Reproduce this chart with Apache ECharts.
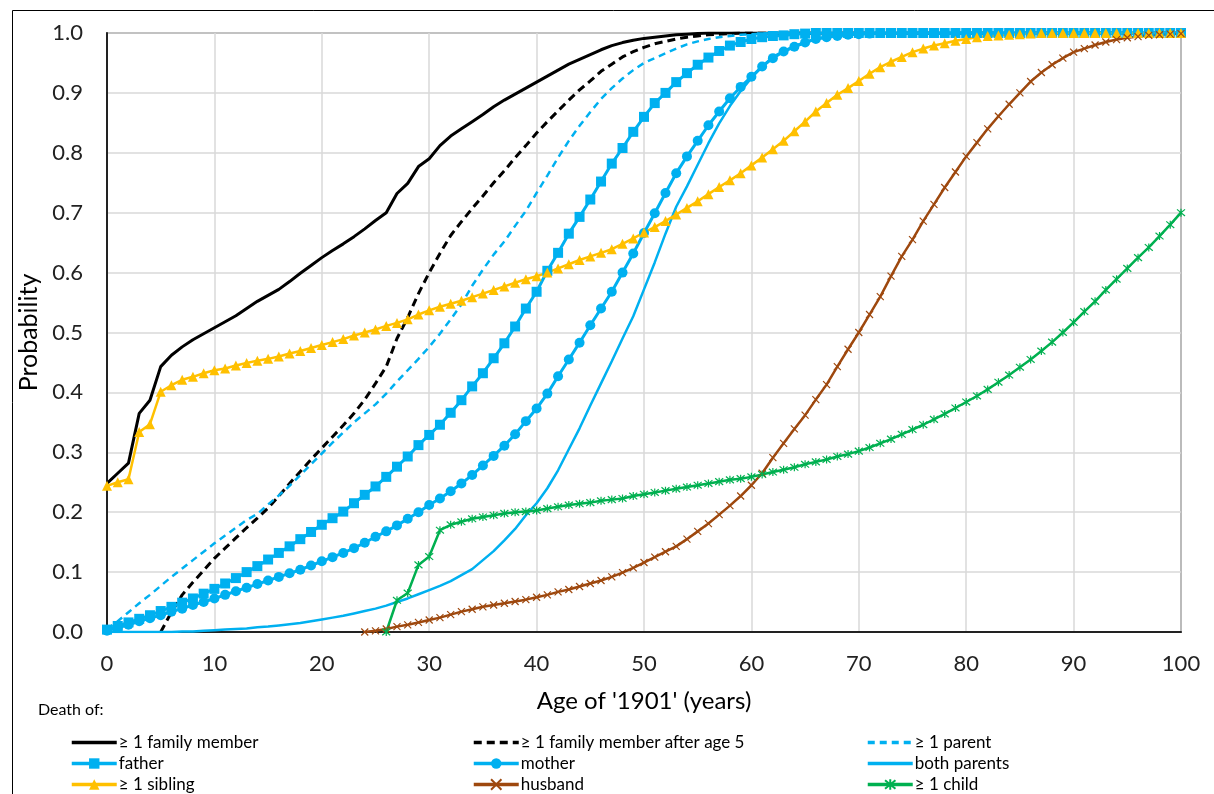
<!DOCTYPE html>
<html>
<head>
<meta charset="utf-8">
<script src="https://cdn.jsdelivr.net/npm/echarts@6/dist/echarts.min.js"></script>
<style>
html,body{margin:0;padding:0;background:#fff;}
#chart{width:1214px;height:794px;}
</style>
</head>
<body>
<div id="chart"></div>
<script>
// Ages 0..100 (x values)
const ages = [0,1,2,3,4,5,6,7,8,9,10,11,12,13,14,15,16,17,18,19,20,21,22,23,24,25,26,27,28,29,30,31,32,33,34,35,36,37,38,39,40,41,42,43,44,45,46,47,48,49,50,51,52,53,54,55,56,57,58,59,60,61,62,63,64,65,66,67,68,69,70,71,72,73,74,75,76,77,78,79,80,81,82,83,84,85,86,87,88,89,90,91,92,93,94,95,96,97,98,99,100];

const xTicks = [0,10,20,30,40,50,60,70,80,90,100];
const yTicks = [0.0,0.1,0.2,0.3,0.4,0.5,0.6,0.7,0.8,0.9,1.0];

const seriesNames = ['≥ 1 family member','≥ 1 family member after age 5','≥ 1 parent','father','mother','both parents','≥ 1 sibling','husband','≥ 1 child'];

// Each series starts at the given age and then has one value per year.
const familyStart = 0;
const family = [0.248,0.265,0.282,0.365,0.387,0.443,0.462,0.476,0.488,0.498,0.508,0.518,0.528,0.54,0.552,0.562,0.572,0.585,0.599,0.612,0.625,0.637,0.648,0.66,0.673,0.687,0.70,0.732,0.749,0.777,0.79,0.812,0.828,0.84,0.852,0.864,0.877,0.888,0.898,0.908,0.918,0.928,0.938,0.948,0.956,0.964,0.972,0.979,0.984,0.988,0.991,0.993,0.995,0.997,0.998,0.999,1,1,1,1,1,1,1,1,1,1,1,1,1,1,1,1,1,1,1,1,1,1,1,1,1,1,1,1,1,1,1,1,1,1,1,1,1,1,1,1,1,1,1,1,1];

const familyAfter5Start = 5;
const familyAfter5 = [0,0.033,0.062,0.083,0.103,0.123,0.14,0.157,0.174,0.19,0.207,0.227,0.248,0.268,0.288,0.307,0.326,0.345,0.365,0.388,0.415,0.443,0.49,0.525,0.565,0.60,0.632,0.662,0.685,0.707,0.728,0.75,0.77,0.792,0.812,0.833,0.852,0.87,0.888,0.905,0.92,0.936,0.948,0.96,0.969,0.976,0.982,0.986,0.99,0.993,0.995,0.997,0.998,0.999,1,1,1,1,1,1,1,1,1,1,1,1,1,1,1,1,1,1,1,1,1,1,1,1,1,1,1,1,1,1,1,1,1,1,1,1,1,1,1,1,1,1];

const parentStart = 0;
const parent = [0.005,0.018,0.033,0.048,0.062,0.077,0.092,0.106,0.12,0.134,0.148,0.161,0.174,0.187,0.197,0.213,0.228,0.244,0.262,0.28,0.298,0.316,0.333,0.35,0.365,0.38,0.398,0.418,0.437,0.456,0.476,0.498,0.522,0.547,0.578,0.605,0.63,0.652,0.678,0.703,0.733,0.762,0.792,0.82,0.845,0.868,0.89,0.908,0.924,0.938,0.95,0.958,0.966,0.974,0.981,0.986,0.99,0.993,0.995,0.997,0.998,0.999,1,1,1,1,1,1,1,1,1,1,1,1,1,1,1,1,1,1,1,1,1,1,1,1,1,1,1,1,1,1,1,1,1,1,1,1,1,1,1];

const fatherStart = 0;
const father = [0.004,0.01,0.016,0.022,0.028,0.035,0.042,0.049,0.056,0.064,0.072,0.081,0.09,0.1,0.11,0.121,0.132,0.143,0.155,0.167,0.179,0.19,0.201,0.215,0.229,0.243,0.259,0.276,0.293,0.312,0.329,0.346,0.366,0.387,0.41,0.432,0.457,0.482,0.51,0.54,0.568,0.603,0.633,0.665,0.693,0.722,0.752,0.782,0.808,0.835,0.86,0.883,0.9,0.918,0.933,0.947,0.959,0.97,0.979,0.985,0.99,0.993,0.995,0.996,0.998,0.999,1,1,1,1,1,1,1,1,1,1,1,1,1,1,1,1,1,1,1,1,1,1,1,1,1,1,1,1,1,1,1,1,1,1,1];

const motherStart = 0;
const mother = [0.002,0.007,0.012,0.018,0.023,0.028,0.034,0.039,0.045,0.05,0.056,0.062,0.068,0.074,0.08,0.086,0.092,0.098,0.104,0.111,0.118,0.125,0.132,0.14,0.149,0.159,0.168,0.178,0.189,0.2,0.212,0.223,0.235,0.248,0.262,0.278,0.294,0.311,0.33,0.352,0.373,0.398,0.427,0.455,0.483,0.512,0.54,0.568,0.6,0.632,0.666,0.699,0.733,0.766,0.794,0.82,0.846,0.869,0.891,0.91,0.927,0.944,0.958,0.969,0.977,0.984,0.99,0.993,0.995,0.997,0.998,0.999,1,1,1,1,1,1,1,1,1,1,1,1,1,1,1,1,1,1,1,1,1,1,1,1,1,1,1,1,1];

const bothStart = 0;
const bothParents = [0,0,0,0,0,0,0,0.001,0.001,0.002,0.003,0.004,0.005,0.006,0.008,0.009,0.011,0.013,0.015,0.018,0.021,0.024,0.027,0.031,0.035,0.039,0.044,0.05,0.056,0.063,0.07,0.077,0.085,0.095,0.105,0.12,0.135,0.153,0.172,0.195,0.215,0.24,0.27,0.305,0.34,0.378,0.415,0.452,0.49,0.527,0.572,0.617,0.665,0.71,0.744,0.78,0.816,0.849,0.878,0.903,0.925,0.944,0.96,0.97,0.978,0.985,0.99,0.993,0.996,0.998,0.999,1,1,1,1,1,1,1,1,1,1,1,1,1,1,1,1,1,1,1,1,1,1,1,1,1,1,1,1,1,1];

const siblingStart = 0;
const sibling = [0.244,0.25,0.255,0.334,0.347,0.401,0.412,0.421,0.426,0.432,0.437,0.44,0.445,0.449,0.453,0.456,0.46,0.465,0.469,0.474,0.479,0.484,0.489,0.495,0.5,0.505,0.511,0.516,0.522,0.53,0.537,0.543,0.548,0.553,0.559,0.565,0.571,0.577,0.583,0.589,0.594,0.6,0.607,0.614,0.621,0.627,0.633,0.639,0.648,0.657,0.667,0.676,0.686,0.697,0.708,0.719,0.731,0.743,0.754,0.766,0.779,0.792,0.806,0.82,0.836,0.852,0.869,0.883,0.897,0.908,0.92,0.932,0.943,0.952,0.96,0.968,0.974,0.979,0.983,0.987,0.99,0.993,0.995,0.996,0.997,0.998,0.999,1,1,1,1,1,1,1,1,1,1,1,1,1,1];

const husbandStart = 24;
const husband = [0,0.002,0.005,0.009,0.012,0.016,0.02,0.024,0.029,0.034,0.038,0.042,0.045,0.048,0.051,0.054,0.058,0.062,0.067,0.071,0.076,0.081,0.086,0.092,0.099,0.107,0.116,0.125,0.134,0.143,0.155,0.168,0.181,0.196,0.211,0.227,0.245,0.265,0.291,0.315,0.339,0.362,0.388,0.413,0.443,0.472,0.5,0.53,0.56,0.594,0.627,0.655,0.686,0.714,0.742,0.768,0.794,0.817,0.84,0.861,0.881,0.9,0.919,0.934,0.947,0.958,0.968,0.974,0.98,0.985,0.989,0.992,0.994,0.996,0.997,0.998,0.999];

const childStart = 26;
const child = [0,0.053,0.065,0.112,0.126,0.17,0.179,0.184,0.189,0.192,0.195,0.198,0.2,0.201,0.203,0.206,0.209,0.212,0.214,0.216,0.219,0.221,0.223,0.227,0.23,0.233,0.236,0.239,0.242,0.245,0.248,0.251,0.254,0.256,0.259,0.263,0.267,0.271,0.275,0.28,0.284,0.288,0.293,0.297,0.302,0.308,0.315,0.322,0.33,0.338,0.346,0.355,0.364,0.374,0.384,0.394,0.405,0.417,0.429,0.442,0.455,0.469,0.484,0.5,0.517,0.535,0.552,0.571,0.589,0.607,0.625,0.642,0.661,0.68,0.7];

function pairs(start, vals){
  return vals.map(function(v,i){ return [ages[start+i], v]; });
}

const BLUE = '#00B0F0', YELLOW = '#FFC000', BROWN = '#9E480E', GREEN = '#00B050';
const FONT = 'Lato, "Noto Sans", sans-serif';

const xPath = 'path://M0,0L10,10M10,0L0,10';
const starPath = 'path://M0,0L10,10M10,0L0,10M5,-1L5,11';

function mk(name, data, color, opts){
  return Object.assign({
    name: name, type: 'line', data: data, showSymbol: false, symbol: 'circle',
    lineStyle: {color: color, width: 2.5, type: 'solid'},
    itemStyle: {color: color},
    emphasis: {disabled: true}, clip: true, z: 2
  }, opts || {});
}

const series = [
  mk(seriesNames[0], pairs(familyStart, family), '#000', {lineStyle:{color:'#000', width:3}}),
  mk(seriesNames[1], pairs(familyAfter5Start, familyAfter5), '#000', {lineStyle:{color:'#000', width:3, type:[8,5]}}),
  mk(seriesNames[2], pairs(parentStart, parent), BLUE, {lineStyle:{color:BLUE, width:2.5, type:[7,5]}}),
  mk(seriesNames[3], pairs(fatherStart, father), BLUE, {showSymbol:true, symbol:'rect', symbolSize:10, lineStyle:{color:BLUE, width:3}}),
  mk(seriesNames[4], pairs(motherStart, mother), BLUE, {showSymbol:true, symbol:'circle', symbolSize:10, lineStyle:{color:BLUE, width:3}}),
  mk(seriesNames[5], pairs(bothStart, bothParents), BLUE, {lineStyle:{color:BLUE, width:2.5}}),
  mk(seriesNames[6], pairs(siblingStart, sibling), YELLOW, {showSymbol:true, symbol:'triangle', symbolSize:10, lineStyle:{color:YELLOW, width:2.5}}),
  mk(seriesNames[7], pairs(husbandStart, husband), BROWN, {showSymbol:true, symbol:xPath, symbolSize:7, itemStyle:{color:BROWN, borderColor:BROWN, borderWidth:1.2}, lineStyle:{color:BROWN, width:2.5}}),
  mk(seriesNames[8], pairs(childStart, child), GREEN, {showSymbol:true, symbol:starPath, symbolSize:8, itemStyle:{color:GREEN, borderColor:GREEN, borderWidth:1.2}, lineStyle:{color:GREEN, width:2.5}})
];

const plainLines = [seriesNames[0], seriesNames[1], seriesNames[2], seriesNames[5]];

// legend grid: 3 columns x 3 rows, same order as the reference
const legendLayout = [
  [seriesNames[0], seriesNames[1], seriesNames[2]],
  [seriesNames[3], seriesNames[4], seriesNames[5]],
  [seriesNames[6], seriesNames[7], seriesNames[8]]
];
const colLeft = [70, 472, 866];
const rowTop = [734, 755, 776];

const legends = [];
legendLayout.forEach(function(row, r){
  row.forEach(function(n, c){
    legends.push({
      orient: 'horizontal', left: colLeft[c], top: rowTop[r], itemWidth: 45, itemHeight: 13,
      padding: 0, selectedMode: false,
      lineStyle: {width: 3.5},
      textStyle: {fontFamily: FONT, fontSize: 17, color: '#000', padding:[0,0,0,-3]},
      data: [plainLines.indexOf(n) >= 0
        ? {name: n, itemStyle: {color: 'rgba(0,0,0,0)', borderColor: 'rgba(0,0,0,0)', borderWidth: 0}}
        : {name: n}]
    });
  });
});

const chart = echarts.init(document.getElementById('chart'), null, {renderer: 'canvas'});
chart.setOption({
  animation: false,
  backgroundColor: '#fff',
  grid: {left: 107, top: 33, width: 1074, height: 599, show: true, borderColor: '#000', borderWidth: 1.2, backgroundColor: 'transparent'},
  xAxis: {
    type: 'value', min: xTicks[0], max: xTicks[xTicks.length-1], interval: 10,
    name: "Age of '1901' (years)", nameLocation: 'middle', nameGap: 57,
    nameTextStyle: {fontFamily: FONT, fontSize: 24, color: '#000'},
    axisLine: {show: true, lineStyle: {color: '#222', width: 2}},
    axisTick: {show: false},
    axisLabel: {fontFamily: FONT, fontSize: 22, color: '#222', margin: 21},
    splitLine: {show: true, lineStyle: {color: '#d9d9d9', width: 1.5}}
  },
  yAxis: {
    type: 'value', min: yTicks[0], max: yTicks[yTicks.length-1], interval: 0.1,
    name: 'Probability', nameLocation: 'middle', nameGap: 62,
    nameTextStyle: {fontFamily: FONT, fontSize: 25, color: '#000'},
    axisLine: {show: true, lineStyle: {color: '#222', width: 2}},
    axisTick: {show: false},
    axisLabel: {fontFamily: FONT, fontSize: 22, color: '#222', margin: 24, formatter: function(v){ return v.toFixed(1); }},
    splitLine: {show: true, lineStyle: {color: '#d9d9d9', width: 1.5}}
  },
  legend: legends,
  graphic: [
    {type: 'rect', left: 10, top: 8, z: -1, shape: {width: 1260, height: 900}, style: {fill: 'none', stroke: '#000', lineWidth: 1}},
    {type: 'text', left: 38, top: 702, style: {text: 'Death of:', fontFamily: FONT, fontSize: 16, fill: '#000'}}
  ],
  series: series
});
</script>
</body>
</html>
